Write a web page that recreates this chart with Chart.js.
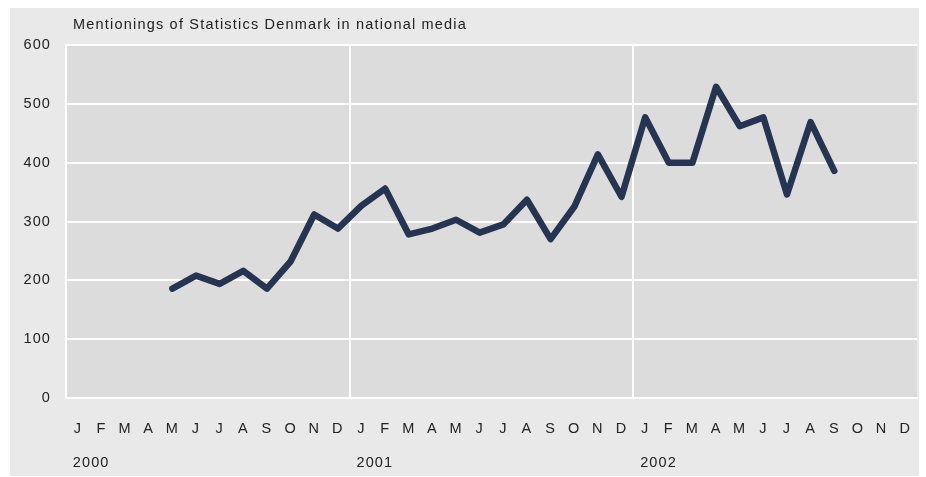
<!DOCTYPE html>
<html>
<head>
<meta charset="utf-8">
<script src="https://cdn.jsdelivr.net/npm/chart.js@4.4.1/dist/chart.umd.min.js"></script>
<style>
    body { margin: 0; background: #ffffff; }
    #wrap { position: absolute; left: 10px; top: 8px; width: 909px; height: 468px; background: #e9e9e9; }
</style>
</head>
<body>
<div id="wrap"><canvas id="myChart"></canvas></div>
<script>
// months Jan 2000 .. Dec 2002
let months = ["J", "F", "M", "A", "M", "J", "J", "A", "S", "O", "N", "D"];
let years = ["2000", "2001", "2002"];
// mentionings per month (null = no data)
let mentions2000 = [null, null, null, null, 186, 208, 194, 216, 186, 232, 312, 288];
let mentions2001 = [327, 356, 278, 288, 303, 281, 295, 337, 270, 325, 414, 342];
let mentions2002 = [477, 400, 400, 529, 462, 477, 346, 469, 386, null, null, null];
let yTicks = [0, 100, 200, 300, 400, 500, 600];

let labels = [];
let yearLabels = [];
years.forEach((y) => {
    months.forEach((m, i) => {
        labels.push(m);
        yearLabels.push(i === 0 ? y : "");
    });
});
let values = mentions2000.concat(mentions2001, mentions2002);

let tickFont = { family: "Liberation Sans", size: 14.5 };

let plotBg = {
    id: "plotBg",
    beforeDraw(chart) {
        let a = chart.chartArea;
        let c = chart.ctx;
        c.letterSpacing = "1.1px";
        c.save();
        c.fillStyle = "#dcdcdc";
        c.fillRect(a.left, a.top, a.right - a.left, a.bottom - a.top);
        c.restore();
    },
    afterDraw(chart) {
        let a = chart.chartArea;
        let c = chart.ctx;
        c.save();
        c.fillStyle = "#222222";
        c.font = "14.5px 'Liberation Sans'";
        c.letterSpacing = "1.2px";
        c.textBaseline = "middle";
        c.fillText("Mentionings of Statistics Denmark in national media", a.left + 7, 17);
        c.restore();
    },
};

let noPad = (s) => {
    s.paddingLeft = 0;
    s.paddingRight = 0;
};

var ctx = document.getElementById("myChart").getContext("2d");
var myChart = new Chart(ctx, {
    type: "line",
    data: {
        labels: labels,
        datasets: [
            {
                data: values,
                borderColor: "#253551",
                borderWidth: 6.5,
                borderCapStyle: "round",
                borderJoinStyle: "round",
                pointRadius: 0,
                tension: 0,
                xAxisID: "x",
            },
        ],
    },
    options: {
        responsive: true,
        maintainAspectRatio: false,
        animation: false,
        layout: { padding: { top: 37, right: 2, left: 0, bottom: 0 } },
        plugins: { legend: { display: false }, tooltip: { enabled: false } },
        scales: {
            x: {
                offset: true,
                grid: {
                    offset: true,
                    drawTicks: false,
                    lineWidth: 2,
                    color: (c) => (c.index % 12 === 0 ? "#ffffff" : "rgba(0,0,0,0)"),
                },
                border: { display: true, color: "#ffffff", width: 2 },
                ticks: {
                    color: "#222222",
                    font: tickFont,
                    padding: 22,
                    maxRotation: 0,
                    autoSkip: false,
                },
                afterFit: (s) => { s.height = 46; noPad(s); },
            },
            years: {
                type: "category",
                labels: yearLabels,
                position: "bottom",
                offset: true,
                grid: { display: false, drawTicks: false },
                border: { display: false },
                ticks: {
                    color: "#222222",
                    font: tickFont,
                    align: "start",
                    labelOffset: -5,
                    padding: 10,
                    maxRotation: 0,
                    autoSkip: false,
                },
                afterFit: (s) => { s.height = 32; noPad(s); },
            },
            y: {
                min: 0,
                max: 600,
                afterBuildTicks: (s) => { s.ticks = yTicks.map((v) => ({ value: v })); },
                grid: { color: "#ffffff", lineWidth: 2, drawTicks: false },
                border: { display: true, color: "#ffffff", width: 2 },
                ticks: {
                    color: "#222222",
                    font: tickFont,
                    padding: 15,
                },
                afterFit: (s) => { s.width = 56; },
            },
        },
    },
    plugins: [plotBg],
});
</script>
</body>
</html>
